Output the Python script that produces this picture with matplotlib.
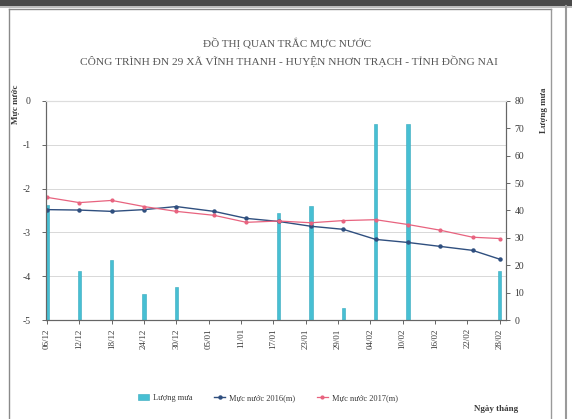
import matplotlib
matplotlib.use("Agg")
import matplotlib.pyplot as plt
from matplotlib.patches import Rectangle
from matplotlib.lines import Line2D
import datetime as dt

plt.rcParams["axes.unicode_minus"] = False

# ---- data ----
tick_labels = ["06/12", "12/12", "18/12", "24/12", "30/12", "05/01", "11/01", "17/01",
               "23/01", "29/01", "04/02", "10/02", "16/02", "22/02", "28/02"]
line_dates = ["06/12", "12/12", "18/12", "24/12", "30/12", "06/01", "12/01", "18/01",
              "24/01", "30/01", "05/02", "11/02", "17/02", "23/02", "28/02"]
level_2016 = [-2.48, -2.49, -2.52, -2.48, -2.41, -2.52, -2.68, -2.75, -2.86, -2.93,
              -3.16, -3.23, -3.32, -3.41, -3.61]
level_2017 = [-2.20, -2.32, -2.27, -2.41, -2.52, -2.61, -2.77, -2.74, -2.78, -2.73,
              -2.71, -2.82, -2.95, -3.11, -3.14]
rain_dates = ["06/12", "12/12", "18/12", "24/12", "30/12", "18/01", "24/01", "30/01",
              "05/02", "11/02", "28/02"]
rain_mm = [42, 18, 22, 9.5, 12, 39, 41.5, 4.5, 71.5, 71.5, 18]

start = dt.date(2016, 12, 6)


def day_of(s):
    d, m = map(int, s.split("/"))
    y = 2016 if m == 12 else 2017
    return (dt.date(y, m, d) - start).days


tick_x = [day_of(s) for s in tick_labels]
line_x = [day_of(s) for s in line_dates]
rain_x = [day_of(s) for s in rain_dates]

W, H = 572, 419
fig = plt.figure(figsize=(W / 100, H / 100), dpi=100)
fig.patch.set_facecolor("white")

SERIF = "Liberation Serif"
txt = "#3a3a3a"

# frame of scanned page
fig.add_artist(Rectangle((0, 1 - 6 / H), 1, 6 / H, transform=fig.transFigure,
                         facecolor="#4a4a4a", edgecolor="none"))
fig.add_artist(Rectangle((0, 1 - 8 / H), 1, 2 / H, transform=fig.transFigure,
                         facecolor="#bdbdbd", edgecolor="none"))
fig.add_artist(Line2D([9 / W, 9 / W], [0, 1 - 9 / H], transform=fig.transFigure,
                      color="#8a8a8a", lw=1.0))
fig.add_artist(Line2D([9 / W, 551 / W], [1 - 9 / H, 1 - 9 / H], transform=fig.transFigure,
                      color="#8a8a8a", lw=1.0))
fig.add_artist(Line2D([551 / W, 551 / W], [0, 1 - 9 / H], transform=fig.transFigure,
                      color="#9a9a9a", lw=1.0))
fig.add_artist(Line2D([566 / W, 566 / W], [0, 1 - 6 / H], transform=fig.transFigure,
                      color="#9a9a9a", lw=1.5))

left_px, right_px, top_px, bot_px = 46, 506, 101, 320
ax2 = fig.add_axes([left_px / W, 1 - bot_px / H, (right_px - left_px) / W, (bot_px - top_px) / H])
ax = ax2.twinx()
ax.yaxis.tick_left()
ax.yaxis.set_label_position("left")
ax2.yaxis.tick_right()
ax2.yaxis.set_label_position("right")
ax.set_zorder(ax2.get_zorder() + 1)
ax.patch.set_visible(False)

# rain bars
ax2.bar(rain_x, rain_mm, width=0.6, color="#47bfd3", edgecolor="#36a9bd", linewidth=0.4,
        label="Lượng mưa", zorder=2)
ax2.set_ylim(0, 80)
ax2.set_yticks(range(0, 81, 10))

# level lines
ax.plot(line_x, level_2016, color="#2f4f7f", lw=1.0, marker="o", ms=2.2,
        label="Mực nước 2016(m)")
ax.plot(line_x, level_2017, color="#e8637f", lw=0.9, marker="o", ms=2.0,
        label="Mực nước 2017(m)")
ax.set_ylim(-5, 0)
ax.set_yticks(range(-5, 1))
for yv in range(-4, 0):
    ax2.axhline((yv + 5) * 16, color="#d8d8d8", lw=0.7, zorder=0)

ax2.set_xlim(-0.2, 85.2)
ax2.set_xticks(tick_x)
ax2.set_xticklabels(tick_labels, rotation=90, fontsize=6.5, family=SERIF, color=txt)

for a in (ax, ax2):
    for s in a.spines.values():
        s.set_color("#666666")
        s.set_linewidth(0.8)
    a.spines["top"].set_color("#dddddd")
    a.tick_params(colors="#666666", labelcolor=txt, length=3, width=0.7, direction="out")
for lab in ax.get_yticklabels() + ax2.get_yticklabels():
    lab.set_family(SERIF)
    lab.set_fontsize(7)
ax.tick_params(axis="y", pad=8)
ax2.tick_params(axis="y", pad=3)
ax2.tick_params(axis="x", pad=3)

# titles
fig.text(287 / W, 1 - 43 / H, "ĐỒ THỊ QUAN TRẮC MỰC NƯỚC", ha="center", va="center",
         family=SERIF, fontsize=8, color="#555555")
fig.text(289 / W, 1 - 61 / H,
         "CÔNG TRÌNH ĐN 29 XÃ VĨNH THANH - HUYỆN NHƠN TRẠCH - TỈNH ĐỒNG NAI",
         ha="center", va="center", family=SERIF, fontsize=8.2, color="#555555")

fig.text(16 / W, 1 - 104 / H, "Mực nước", rotation=90, ha="center", va="center",
         family=SERIF, fontsize=6.5, color=txt, fontweight="bold")
fig.text(544 / W, 1 - 110 / H, "Lượng mưa", rotation=90, ha="center", va="center",
         family=SERIF, fontsize=6.5, color=txt, fontweight="bold")
fig.text(496 / W, 1 - 409 / H, "Ngày tháng", ha="center", va="center",
         family=SERIF, fontsize=6.5, color=txt, fontweight="bold")

# legend
h1, l1 = ax2.get_legend_handles_labels()
h2, l2 = ax.get_legend_handles_labels()
leg = fig.legend(h1 + h2, l1 + l2, loc="center", bbox_to_anchor=(268 / W, 1 - 398 / H),
                 ncol=3, frameon=False, prop={"family": SERIF, "size": 6},
                 handlelength=1.3, handletextpad=0.5, columnspacing=2.6)
for t in leg.get_texts():
    t.set_color(txt)

fig.savefig("out.png", dpi=100, facecolor="white")
